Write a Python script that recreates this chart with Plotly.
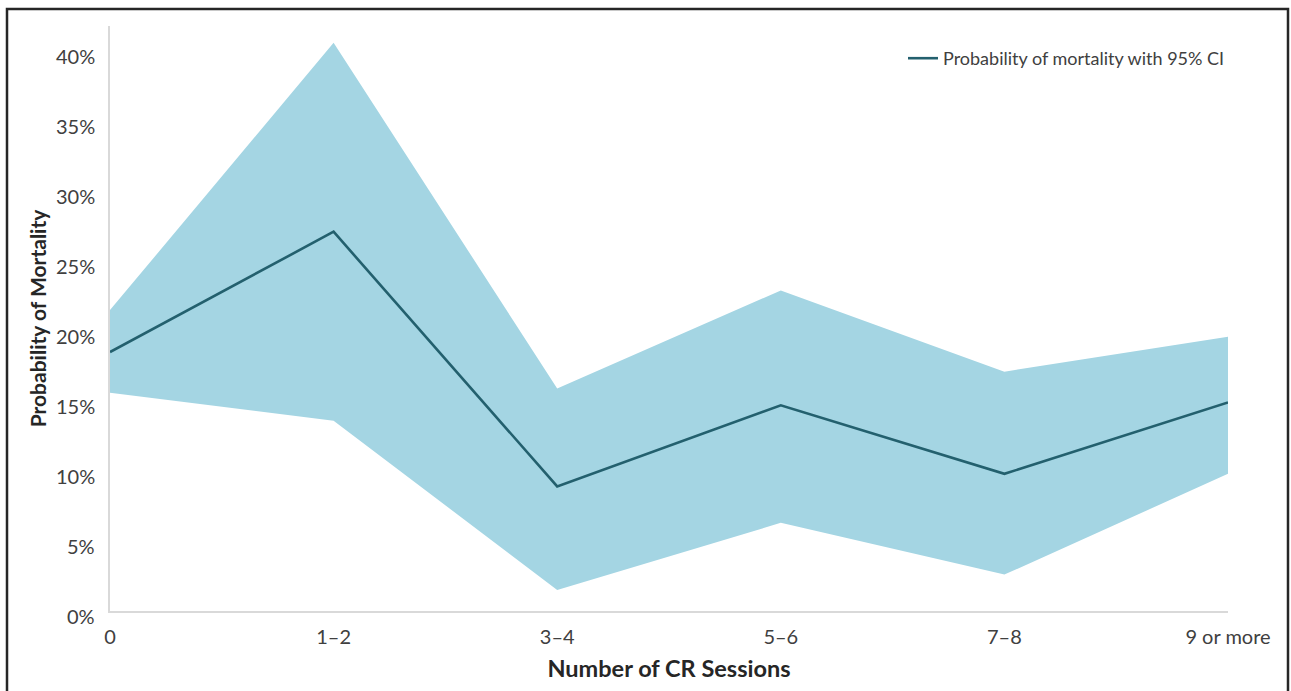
import plotly.graph_objects as go

categories = ["0", "1\u20132", "3\u20134", "5\u20136", "7\u20138", "9 or more"]
mean_pct = [18.5, 27.1, 8.9, 14.7, 9.8, 14.9]
upper_pct = [21.5, 40.6, 15.9, 22.9, 17.1, 19.6]
lower_pct = [15.6, 13.6, 1.5, 6.3, 2.6, 9.8]
y_ticks = [0, 5, 10, 15, 20, 25, 30, 35, 40]
y_tick_labels = [f"{v}%" for v in y_ticks]

x = list(range(len(categories)))

FILL = "#A4D5E3"
LINE = "#23606E"
FONT = "Lato"
TICK_COLOR = "#404040"

fig = go.Figure()
fig.add_trace(go.Scatter(x=x, y=upper_pct, mode="lines", line=dict(width=0, color=FILL),
                         showlegend=False, hoverinfo="skip"))
fig.add_trace(go.Scatter(x=x, y=lower_pct, mode="lines", line=dict(width=0, color=FILL),
                         fill="tonexty", fillcolor=FILL, showlegend=False, hoverinfo="skip"))
fig.add_trace(go.Scatter(x=x, y=mean_pct, mode="lines", line=dict(width=2.6, color=LINE),
                         name="Probability of mortality with 95% CI"))

W, H = 1291, 691
L, R, T, B = 110, 1228, 26, 611

def px_x(p):
    return (p - L) / (R - L)

def px_y(p):
    return (B - p) / (B - T)

# y tick labels (Excel-style: drawn slightly below the tick position)
annotations = [dict(text=lab, x=0, xref="paper", y=v, yref="y", xanchor="right",
                    yanchor="middle", xshift=-13, yshift=-5, showarrow=False,
                    font=dict(family=FONT, size=20, color=TICK_COLOR))
               for v, lab in zip(y_ticks, y_tick_labels)]

fig.update_layout(
    width=W, height=H,
    margin=dict(l=L, r=W - R, t=T, b=H - B),
    paper_bgcolor="white", plot_bgcolor="white",
    font=dict(family=FONT, size=20, color=TICK_COLOR),
    showlegend=True,
    legend=dict(x=px_x(903), y=px_y(40), xanchor="left", yanchor="top",
                bgcolor="rgba(0,0,0,0)", font=dict(size=18, color=TICK_COLOR),
                itemwidth=30),
    xaxis=dict(range=[0, 5], tickvals=x, ticktext=categories, showgrid=False,
               zeroline=False, showline=True, linecolor="#D9D9D9", linewidth=1.5,
               ticks="", ticklabelstandoff=7,
               title=dict(text="<b>Number of CR Sessions</b>", font=dict(size=23.5, color="#262626"),
                          standoff=14)),
    yaxis=dict(range=[0, 41.8], tickvals=y_ticks, showticklabels=False,
               showgrid=False, zeroline=False, showline=True, linecolor="#D9D9D9",
               linewidth=1.5, ticks="",
               title=dict(text="<b>Probability of Mortality</b>", font=dict(size=21, color="#262626"),
                          standoff=56)),
    annotations=annotations,
    shapes=[dict(type="rect", xref="paper", yref="paper",
                 x0=px_x(7), x1=px_x(1288), y0=px_y(720), y1=px_y(9),
                 line=dict(color="#262626", width=2.5), fillcolor="rgba(0,0,0,0)",
                 layer="above")],
)

fig.write_html("out.html", config={"displayModeBar": False},
               post_script="document.body.style.margin='0';")
